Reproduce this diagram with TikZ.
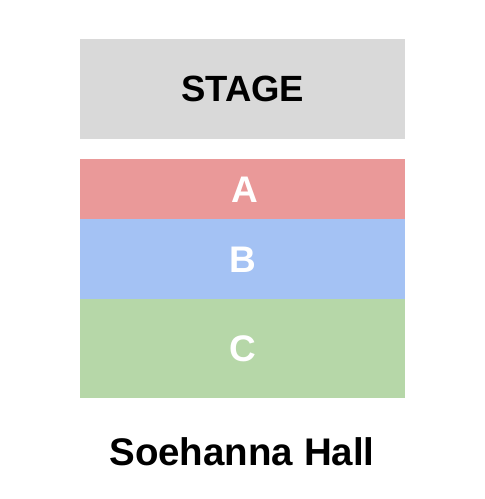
\documentclass[tikz,border=0pt]{standalone}
\usepackage{fontspec}
\setmainfont{Liberation Sans}
\definecolor{stagegray}{HTML}{D9D9D9}
\definecolor{secA}{HTML}{EA9999}
\definecolor{secB}{HTML}{A4C2F4}
\definecolor{secC}{HTML}{B6D7A8}
\tikzset{
  sec/.style={fill=#1, draw=none, inner sep=0pt, minimum width=325pt},
  lbl/.style={font=\fontsize{37}{37}\selectfont\bfseries, text=white, inner sep=0pt, anchor=base}
}
\begin{document}
\begin{tikzpicture}[x=1pt,y=-1pt]
\useasboundingbox[fill=white] (0,0) rectangle (485,499);
\node[sec=stagegray, minimum height=100pt, anchor=north west] (stage) at (80,39) {};
\node[sec=secA, minimum height=60pt, anchor=north west] (a) at (80,159) {};
\node[sec=secB, minimum height=80pt, anchor=north west] (b) at (80,219) {};
\node[sec=secC, minimum height=99pt, anchor=north west] (c) at (80,299) {};
\node[lbl, text=black, font=\fontsize{36.5}{36.5}\selectfont\bfseries] (stagetxt) at (242.8,101.7) {STAGE};
\node[lbl] (atxt) at (244.8,202.7) {A};
\node[lbl] (btxt) at (242.5,272.5) {B};
\node[lbl] (ctxt) at (242.5,361.7) {C};
\node[font=\fontsize{38.5}{38.5}\selectfont\bfseries, inner sep=0pt, anchor=base] (hall) at (242,465) {Soehanna Hall};
\end{tikzpicture}
\end{document}
